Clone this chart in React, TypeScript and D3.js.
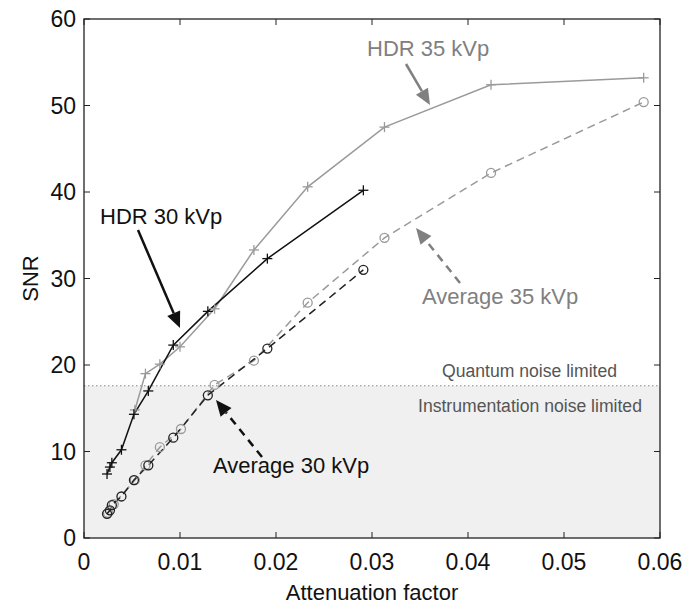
import React from "react";
import * as d3 from "d3";

const hdr30X = [0.0024, 0.0027, 0.0029, 0.0039, 0.0052, 0.0067, 0.0093, 0.0129, 0.0191, 0.0291];
const hdr30Y = [7.4, 8.2, 8.7, 10.2, 14.3, 17.0, 22.3, 26.2, 32.3, 40.2];
const avg30Y = [2.8, 3.2, 3.8, 4.8, 6.7, 8.4, 11.6, 16.5, 21.9, 31.0];

const hdr35X = [0.0053, 0.0064, 0.0079, 0.0100, 0.0136, 0.0177, 0.0233, 0.0313, 0.0424, 0.0583];
const hdr35Y = [14.8, 19.0, 20.1, 22.1, 26.5, 33.3, 40.6, 47.5, 52.4, 53.2];
const avg35X = [0.0025, 0.0031, 0.0053, 0.0064, 0.0079, 0.0101, 0.0136, 0.0177, 0.0233, 0.0313, 0.0424, 0.0583];
const avg35Y = [2.9, 3.9, 6.7, 8.4, 10.5, 12.6, 17.7, 20.5, 27.2, 34.7, 42.2, 50.4];

const xTicks = [0, 0.01, 0.02, 0.03, 0.04, 0.05, 0.06];
const yTicks = [0, 10, 20, 30, 40, 50, 60];
const noiseThreshold = 17.6;

const W = 687, H = 610;
const L = 84, R = 660, T = 19, B = 538;
const FONT = "'Liberation Sans', Arial, sans-serif";
const GREY = "#9a9a9a";

export default function App() {
  const x = d3.scaleLinear().domain([0, 0.06]).range([L, R]);
  const y = d3.scaleLinear().domain([0, 60]).range([B, T]);
  const line = d3.line<[number, number]>().x(d => x(d[0])).y(d => y(d[1]));

  const hdr30 = hdr30X.map((v, i) => [v, hdr30Y[i]] as [number, number]);
  const avg30 = hdr30X.map((v, i) => [v, avg30Y[i]] as [number, number]);
  const hdr35 = hdr35X.map((v, i) => [v, hdr35Y[i]] as [number, number]);
  const avg35 = avg35X.map((v, i) => [v, avg35Y[i]] as [number, number]);

  const plus = (pts: [number, number][], color: string, key: string) =>
    pts.map((p, i) => {
      const cx = x(p[0]), cy = y(p[1]);
      return (
        <g key={key + i} stroke={color} strokeWidth={1.3}>
          <line x1={cx - 5} x2={cx + 5} y1={cy} y2={cy} />
          <line x1={cx} x2={cx} y1={cy - 5} y2={cy + 5} />
        </g>
      );
    });
  const circles = (pts: [number, number][], color: string, key: string) =>
    pts.map((p, i) => (
      <circle key={key + i} cx={x(p[0])} cy={y(p[1])} r={4.5} fill="none" stroke={color} strokeWidth={1.3} />
    ));

  const arrow = (x1: number, y1: number, x2: number, y2: number, color: string, dashed: boolean, key: string) => {
    const ang = Math.atan2(y2 - y1, x2 - x1);
    const len = 16, wid = 7;
    const bx = x2 - len * Math.cos(ang), by = y2 - len * Math.sin(ang);
    const px = -Math.sin(ang) * wid, py = Math.cos(ang) * wid;
    return (
      <g key={key}>
        <line x1={x1} y1={y1} x2={bx} y2={by} stroke={color} strokeWidth={2.5} strokeDasharray={dashed ? "8,6" : undefined} />
        <path d={`M${x2},${y2}L${bx + px},${by + py}L${bx - px},${by - py}Z`} fill={color} />
      </g>
    );
  };

  return (
    <svg width={W} height={H} style={{ position: "absolute", left: 0, top: 0, background: "#fff" }} fontFamily={FONT}>
      <rect x={L} y={y(noiseThreshold)} width={R - L} height={B - y(noiseThreshold)} fill="#f0f0f0" />
      <line x1={L} x2={R} y1={y(noiseThreshold)} y2={y(noiseThreshold)} stroke="#888" strokeWidth={1} strokeDasharray="1.5,2.5" />

      <path d={line(avg35) || ""} fill="none" stroke={GREY} strokeWidth={1.5} strokeDasharray="8,5" />
      <path d={line(avg30) || ""} fill="none" stroke="#222" strokeWidth={1.5} strokeDasharray="8,5" />
      <path d={line(hdr35) || ""} fill="none" stroke={GREY} strokeWidth={1.5} />
      <path d={line(hdr30) || ""} fill="none" stroke="#111" strokeWidth={1.5} />
      {circles(avg35, GREY, "a35")}
      {circles(avg30, "#222", "a30")}
      {plus(hdr35, GREY, "h35")}
      {plus(hdr30, "#111", "h30")}

      <rect x={L} y={T} width={R - L} height={B - T} fill="none" stroke="#222" strokeWidth={1.3} />
      {xTicks.map(t => (
        <g key={"xt" + t}>
          <line x1={x(t)} x2={x(t)} y1={B} y2={B - 6} stroke="#222" />
          <line x1={x(t)} x2={x(t)} y1={T} y2={T + 6} stroke="#222" />
          <text x={x(t)} y={570} textAnchor="middle" fontSize={23} fill="#111">{t === 0 ? "0" : d3.format(".2f")(t)}</text>
        </g>
      ))}
      {yTicks.map(t => (
        <g key={"yt" + t}>
          <line x1={L} x2={L + 6} y1={y(t)} y2={y(t)} stroke="#222" />
          <line x1={R} x2={R - 6} y1={y(t)} y2={y(t)} stroke="#222" />
          <text x={76} y={y(t) + 8} textAnchor="end" fontSize={23} fill="#111">{t}</text>
        </g>
      ))}
      <text x={(L + R) / 2} y={600} textAnchor="middle" fontSize={22} fill="#111">Attenuation factor</text>
      <text transform={`translate(38,${(T + B) / 2}) rotate(-90)`} textAnchor="middle" fontSize={22} fill="#111">SNR</text>

      <text x={367} y={56} fontSize={22} fill="#808080">HDR 35 kVp</text>
      {arrow(406, 64, 430, 105, "#808080", false, "ar35")}
      <text x={100} y={224} fontSize={22} fill="#111">HDR 30 kVp</text>
      {arrow(138, 230, 180, 328, "#111", false, "ar30")}
      <text x={422} y={304} fontSize={22} fill="#808080">Average 35 kVp</text>
      {arrow(460, 283, 416, 228, "#808080", true, "aa35")}
      <text x={213} y={473} fontSize={22} fill="#111">Average 30 kVp</text>
      {arrow(262, 457, 216, 400, "#111", true, "aa30")}
      <text x={442} y={377} fontSize={17.6} fill="#555">Quantum noise limited</text>
      <text x={418} y={412} fontSize={17.6} fill="#555">Instrumentation noise limited</text>
    </svg>
  );
}
